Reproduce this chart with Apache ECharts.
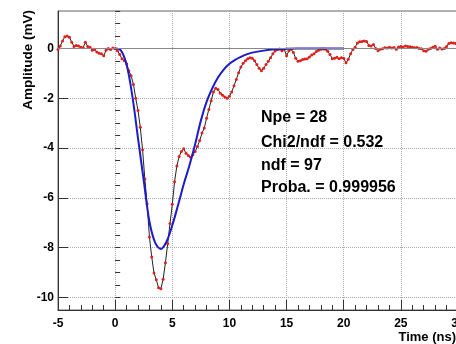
<!DOCTYPE html>
<html><head><meta charset="utf-8">
<script src="https://cdn.jsdelivr.net/npm/echarts@6/dist/echarts.min.js"></script>
<style>html,body{margin:0;padding:0;background:#fff}#c{width:456px;height:344px}</style>
</head><body><div id="c"></div>
<script>
// Sampled pulse: first sample time (ns) and sampling step (ns)
const sampleStart = -5.0;
const sampleStep = 0.2;
// Amplitude (mV), one value per sample
const amplitude = [
  -0.05, 0.1, 0.3, 0.47, 0.5,
  0.45, 0.25, 0.08, 0.12, 0.1,
  0.05, 0.03, 0.25, 0.08, 0.05,
  -0.08, -0.05, -0.15, -0.2, -0.22,
  -0.3, -0.08, 0.0, -0.05, 0.02,
  -0.02, -0.1, -0.25, -0.42, -0.5,
  -0.62, -0.9, -1.1, -1.45, -2.0,
  -2.49, -3.17, -4.07, -5.24, -6.25,
  -7.57, -8.37, -9.02, -9.29, -9.61,
  -9.65, -9.27, -8.60, -7.84, -7.03,
  -6.26, -5.35, -4.72, -4.34, -4.14,
  -4.03, -4.21, -4.30, -4.37, -4.27,
  -4.14, -3.94, -3.70, -3.40, -3.20,
  -2.8, -2.45, -2.1, -1.75, -1.6,
  -1.65, -1.8, -1.88, -1.95, -2.0,
  -1.92, -1.75, -1.5, -1.25, -0.98,
  -0.75, -0.6, -0.5, -0.42, -0.38,
  -0.4, -0.5, -0.65, -0.8, -0.9,
  -0.8, -0.65, -0.52, -0.38, -0.22,
  -0.11, -0.05, -0.03, -0.1, -0.04,
  -0.3, -0.1, -0.04, -0.17, -0.4,
  -0.52, -0.5, -0.45, -0.43, -0.42,
  -0.35, -0.27, -0.22, -0.13, -0.08,
  -0.04, -0.03, -0.04, -0.12, -0.25,
  -0.42, -0.4, -0.36, -0.42, -0.38,
  -0.4, -0.58, -0.44, -0.22, -0.05,
  0.05, 0.22, 0.27, 0.28, 0.3,
  0.28, 0.12, 0.1, 0.16, 0.0,
  -0.1, -0.04, -0.02, 0.03, 0.02,
  0.05, 0.02, 0.04, -0.04, 0.06,
  0.08, 0.06, 0.1, 0.08, 0.07,
  0.05, 0.03, 0.04, 0.0, -0.02,
  -0.1, -0.12, -0.04, 0.0, 0.05,
  0.09, -0.04, 0.02, -0.03, 0.0,
  0.08, 0.2, 0.23, 0.22, 0.2,
  0.18
];
// Fit curve
const fitTime = [0,0.5,1,1.5,2,2.5,3,3.5,4,4.5,5,5.5,6,6.5,7,7.5,8,8.5,9,9.5,10,10.5,11,11.5,12,13,14,15,16,18,20];
const fitAmplitude = [0,-0.08,-0.65,-1.9,-3.6,-5.3,-6.95,-7.8,-8.05,-7.75,-7.1,-6.3,-5.45,-4.7,-3.85,-2.9,-2.15,-1.6,-1.17,-0.85,-0.62,-0.46,-0.34,-0.24,-0.17,-0.09,-0.04,-0.02,-0.01,0,0];
// Tick labels
const xTickLabels = [-5, 0, 5, 10, 15, 20, 25, 30];
const yTickLabels = [-10, -8, -6, -4, -2, 0];
// Fit statistics box
const fitStats = ["Npe = 28", "Chi2/ndf = 0.532", "ndf = 97", "Proba. = 0.999956"];
const xTitle = "Time (ns)";
const yTitle = "Amplitude (mV)";

const dataPoints = amplitude.map((v, i) => [+(sampleStart + i * sampleStep).toFixed(2), v]);
const fitPoints = fitTime.map((t, i) => [t, fitAmplitude[i]]);

const FONT = 'Liberation Sans, Arial, Helvetica, sans-serif';
const chart = echarts.init(document.getElementById('c'), null, {renderer: 'canvas'});
const statY = [118, 143, 166, 188];
chart.setOption({
  animation: false,
  backgroundColor: '#fff',
  grid: {left: 58, top: 11, bottom: 34, right: -2, show: true, borderColor: '#666', borderWidth: 1,
    outerBoundsMode: 'none', containLabel: false},
  xAxis: {
    type: 'value', min: -5, max: 30, interval: 5,
    axisLine: {show: true, onZero: false, lineStyle: {color: '#333', width: 1}},
    axisTick: {show: true, inside: true, length: 10, lineStyle: {color: '#333'}},
    minorTick: {show: true, splitNumber: 5, length: 5, lineStyle: {color: '#333'}},
    splitLine: {show: true, lineStyle: {color: '#aaa', type: 'dotted', width: 1}},
    axisLabel: {margin: 8, color: '#000', fontSize: 12, fontWeight: 'bold', fontFamily: FONT,
      hideOverlap: false,
      formatter: v => xTickLabels.includes(v) ? String(v) : ''}
  },
  yAxis: [{
    type: 'value', min: -10.5, max: 1.5, splitNumber: 6, position: 'left',
    axisLine: {show: true, onZero: false, lineStyle: {color: '#333', width: 1}},
    axisTick: {show: true, inside: true, length: 10, lineStyle: {color: '#333'}},
    splitLine: {show: true, lineStyle: {color: '#aaa', type: 'dotted', width: 1}},
    axisLabel: {margin: 4, color: '#000', fontSize: 12, fontWeight: 'bold', fontFamily: FONT,
      showMinLabel: false, showMaxLabel: false,
      formatter: v => yTickLabels.includes(v) ? String(v) : ''}
  }, {
    type: 'value', min: -10.5, max: 1.5, interval: 0.5, position: 'left',
    axisLine: {show: false},
    axisTick: {show: true, inside: true, length: 5, lineStyle: {color: '#333'}},
    splitLine: {show: false},
    axisLabel: {show: false}
  }],
  series: [{
    type: 'line', data: dataPoints, yAxisIndex: 0,
    symbol: 'circle', symbolSize: 3, showSymbol: true,
    lineStyle: {color: '#222', width: 1},
    itemStyle: {color: '#e0201c', borderWidth: 0},
    z: 3,
    markLine: {silent: true, symbol: 'none', label: {show: false},
      lineStyle: {color: '#888', type: 'solid', width: 1}, data: [{yAxis: 0}]}
  }, {
    type: 'line', data: fitPoints, yAxisIndex: 0, showSymbol: false, symbol: 'none',
    smooth: 0.35, lineStyle: {color: '#1c1cc8', width: 2}, z: 4
  }],
  graphic: [
    {type: 'text', x: 28, y: 10, rotation: Math.PI / 2,
      style: {text: yTitle, fill: '#000', font: 'bold 13.5px ' + FONT, align: 'right', verticalAlign: 'middle'}},
    {type: 'text', x: 456, y: 337,
      style: {text: xTitle, fill: '#000', font: 'bold 13px ' + FONT, align: 'right', verticalAlign: 'middle'}}
  ].concat(fitStats.map((s, i) => ({type: 'text', x: 261, y: statY[i], z: 10,
      style: {text: s, fill: '#000', font: 'bold 16px ' + FONT, align: 'left', verticalAlign: 'middle'}})))
});
</script></body></html>
